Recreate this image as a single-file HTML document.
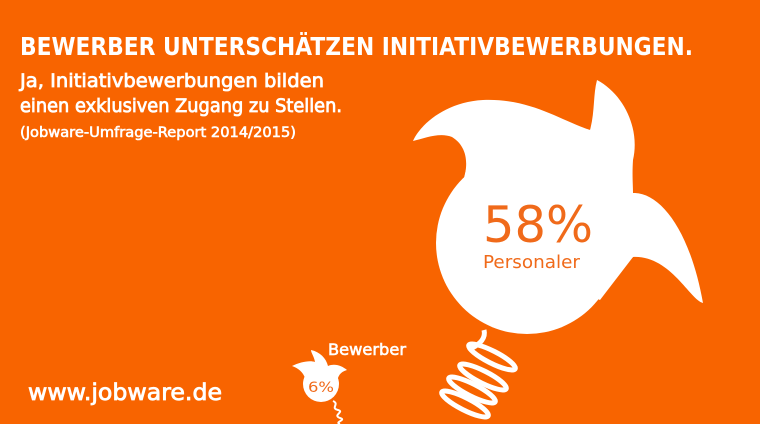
<!DOCTYPE html>
<html><head><meta charset="utf-8"><style>
html,body{margin:0;padding:0;background:#f86400;}
svg{display:block}
text{font-family:"DejaVu Sans","Liberation Sans",sans-serif;}
</style></head><body>
<svg width="760" height="424" viewBox="0 0 760 424" xmlns="http://www.w3.org/2000/svg">
<rect width="760" height="424" fill="#f86400"/>
<g fill="#fff">
<text x="20" y="55" font-size="25" font-weight="bold" textLength="673" lengthAdjust="spacingAndGlyphs">BEWERBER UNTERSCHÄTZEN INITIATIVBEWERBUNGEN.</text>
<text x="20" y="87" font-size="19" textLength="304" lengthAdjust="spacingAndGlyphs" stroke="#fff" stroke-width="0.8">Ja, Initiativbewerbungen bilden</text>
<text x="20" y="112" font-size="19" textLength="322" lengthAdjust="spacingAndGlyphs" stroke="#fff" stroke-width="0.8">einen exklusiven Zugang zu Stellen.</text>
<text x="20" y="137" font-size="14" textLength="276" lengthAdjust="spacingAndGlyphs" stroke="#fff" stroke-width="0.6">(Jobware-Umfrage-Report 2014/2015)</text>
<text x="28" y="400" font-size="23" textLength="194" lengthAdjust="spacingAndGlyphs" stroke="#fff" stroke-width="0.8">www.jobware.de</text>
<text x="328" y="355" font-size="16" textLength="78" lengthAdjust="spacingAndGlyphs" stroke="#fff" stroke-width="0.6">Bewerber</text>
<circle cx="527" cy="243" r="91"/>
<path d="M463,182 C470,160 465,145 452,137 C440,132 425,138 413,141 C420,125 445,102 483,100 C530,98 560,120 590,130 C595,112 593,95 597,80 C625,95 640,130 633,160 C632,175 633,185 633,193 C660,192 690,230 703,303 C690,300 670,255 633,257 L600,290 L470,230 Z"/>
<polygon points="463,182 483,100 590,130 633,193 633,257 600,300 470,240"/>
<circle cx="321" cy="384" r="18"/>
<path d="M305,378 C303,372 298,368 292,366 C300,362 310,360 315,362 C314,356 311,353 311,350 C320,352 326,358 328,366 C335,363 342,366 347,370 C340,372 338,376 337,382 L320,390 Z"/>
</g>
<g fill="none" stroke="#fff" stroke-width="5">
<path d="M484,330 C486,338 480,344 472,348"/>
<ellipse cx="492" cy="357" rx="26" ry="6" transform="rotate(27 492 357)"/>
<ellipse cx="483" cy="377" rx="26" ry="6" transform="rotate(27 483 377)"/>
<ellipse cx="472" cy="390" rx="26" ry="6" transform="rotate(27 472 390)"/>
<ellipse cx="465" cy="404" rx="26" ry="6" transform="rotate(27 465 404)"/>
</g>
<path d="M333,401 C340,404 330,408 338,410 C345,412 332,415 340,418 C347,420 334,422 340,424" fill="none" stroke="#fff" stroke-width="2"/>
<g fill="#f06a1a">
<text x="483" y="242" font-size="50" textLength="110" lengthAdjust="spacingAndGlyphs">58%</text>
<text x="483" y="268" font-size="18" textLength="97" lengthAdjust="spacingAndGlyphs">Personaler</text>
<text x="308" y="392" font-size="14" textLength="26" lengthAdjust="spacingAndGlyphs">6%</text>
</g>
</svg>
</body></html>
